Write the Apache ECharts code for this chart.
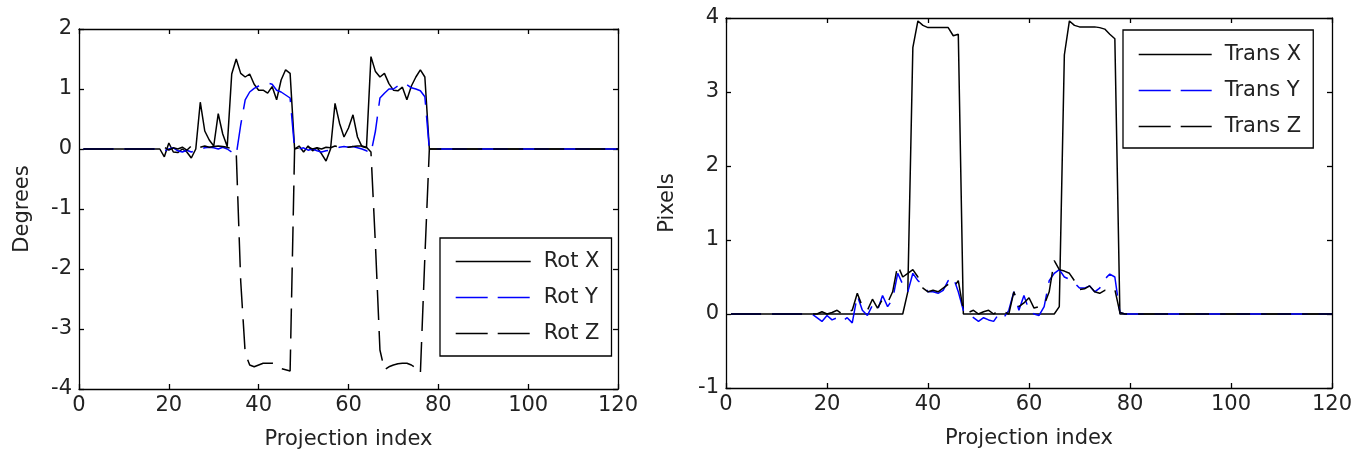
<!DOCTYPE html>
<html>
<head>
<meta charset="utf-8">
<script src="https://cdn.jsdelivr.net/npm/echarts/dist/echarts.min.js"></script>
<style>
  html, body { margin: 0; padding: 0; background: #fff; }
  #chart { width: 1369px; height: 460px; }
</style>
</head>
<body>
<div id="chart"></div>
<script>
// projection index 1..120
var projIndex = [];
for (var i = 1; i <= 120; i++) projIndex.push(i);

var xTicks = [0, 20, 40, 60, 80, 100, 120];

// left panel (degrees)
var rotX = [
  0, 0, 0, 0, 0, 0, 0, 0, 0, 0, 0, 0, 0, 0, 0, 0, 0, 0, -0.13, 0.1,
  -0.05, -0.06, 0.0, -0.05, -0.15, 0.0, 0.78, 0.3, 0.15, 0.05, 0.59, 0.25, 0.04, 1.25, 1.5, 1.26, 1.2, 1.25, 1.08, 0.98,
  0.98, 0.93, 1.04, 0.82, 1.15, 1.32, 1.26, 0.0, 0.05, -0.05, 0.05, -0.03, 0.02, -0.08, -0.2, 0.0, 0.76, 0.43, 0.2, 0.35,
  0.57, 0.2, 0.04, 0.02, 1.54, 1.29, 1.2, 1.26, 1.09, 0.98, 0.97, 1.03, 0.82, 1.05, 1.2, 1.32, 1.2, 0, 0, 0,
  0, 0, 0, 0, 0, 0, 0, 0, 0, 0, 0, 0, 0, 0, 0, 0, 0, 0, 0, 0,
  0, 0, 0, 0, 0, 0, 0, 0, 0, 0, 0, 0, 0, 0, 0, 0, 0, 0, 0, 0
];
var rotY = [
  0, 0, 0, 0, 0, 0, 0, 0, 0, 0, 0, 0, 0, 0, 0, 0, 0, 0, -0.03, 0.0,
  0.02, -0.03, -0.05, -0.02, -0.05, -0.03, 0.0, 0.02, 0.03, 0.02, 0.0, 0.03, 0.0, -0.05, -0.1, 0.4, 0.82, 0.95, 1.01, 1.05,
  1.08, 1.1, 1.08, 0.98, 0.95, 0.9, 0.85, 0.0, 0.0, 0.02, -0.02, 0.0, -0.03, -0.05, -0.03, -0.02, 0.0, 0.03, 0.04, 0.03,
  0.04, 0.02, 0.0, -0.03, -0.07, 0.3, 0.85, 0.93, 1.0, 1.0, 1.05, 1.1, 1.07, 1.02, 1.0, 0.97, 0.87, 0, 0, 0,
  0, 0, 0, 0, 0, 0, 0, 0, 0, 0, 0, 0, 0, 0, 0, 0, 0, 0, 0, 0,
  0, 0, 0, 0, 0, 0, 0, 0, 0, 0, 0, 0, 0, 0, 0, 0, 0, 0, 0, 0
];
var rotZ = [
  0, 0, 0, 0, 0, 0, 0, 0, 0, 0, 0, 0, 0, 0, 0, 0, 0, 0, 0.03, -0.02,
  0.02, 0.0, 0.03, -0.02, 0.05, 0.0, 0.03, 0.05, 0.03, 0.04, 0.05, 0.04, 0.03, 0.0, -0.05, -2.2, -3.4, -3.6, -3.63, -3.6,
  -3.57, -3.57, -3.57, -3.58, -3.66, -3.68, -3.7, 0.0, 0.02, -0.02, 0.03, 0.0, 0.02, 0.0, 0.03, 0.02, 0.05, 0.03, 0.05, 0.03,
  0.04, 0.05, 0.05, 0.03, -0.05, -1.6, -3.35, -3.68, -3.63, -3.6, -3.58, -3.57, -3.57, -3.6, -3.65, -3.74, -1.8, 0, 0, 0,
  0, 0, 0, 0, 0, 0, 0, 0, 0, 0, 0, 0, 0, 0, 0, 0, 0, 0, 0, 0,
  0, 0, 0, 0, 0, 0, 0, 0, 0, 0, 0, 0, 0, 0, 0, 0, 0, 0, 0, 0
];

// right panel (pixels)
var transX = [
  0, 0, 0, 0, 0, 0, 0, 0, 0, 0, 0, 0, 0, 0, 0, 0, 0, 0, 0, 0,
  0, 0, 0, 0, 0, 0, 0, 0, 0, 0, 0, 0, 0, 0, 0, 0.3, 3.6, 3.96, 3.9, 3.87,
  3.87, 3.87, 3.87, 3.87, 3.76, 3.78, 0, 0, 0, 0, 0, 0, 0, 0, 0, 0, 0, 0, 0, 0,
  0, 0, 0, 0, 0, 0.1, 3.5, 3.96, 3.9, 3.88, 3.88, 3.88, 3.88, 3.87, 3.85, 3.78, 3.72, 0, 0, 0,
  0, 0, 0, 0, 0, 0, 0, 0, 0, 0, 0, 0, 0, 0, 0, 0, 0, 0, 0, 0,
  0, 0, 0, 0, 0, 0, 0, 0, 0, 0, 0, 0, 0, 0, 0, 0, 0, 0, 0, 0
];
var transY = [
  0, 0, 0, 0, 0, 0, 0, 0, 0, 0, 0, 0, 0, 0, 0, 0, 0, -0.05, -0.1, -0.02,
  -0.08, -0.05, -0.1, -0.05, -0.12, 0.25, 0.05, -0.02, 0.12, 0.05, 0.25, 0.1, 0.2, 0.55, 0.4, 0.3, 0.55, 0.45, 0.4, 0.3,
  0.3, 0.28, 0.32, 0.45, 0.5, 0.3, 0.05, 0.0, -0.05, -0.1, -0.05, -0.08, -0.1, 0.0, -0.05, 0.05, 0.3, 0.05, 0.25, 0.05,
  0.0, -0.02, 0.1, 0.45, 0.55, 0.6, 0.5, 0.47, 0.42, 0.35, 0.35, 0.38, 0.3, 0.35, 0.47, 0.54, 0.5, 0.02, 0, 0,
  0, 0, 0, 0, 0, 0, 0, 0, 0, 0, 0, 0, 0, 0, 0, 0, 0, 0, 0, 0,
  0, 0, 0, 0, 0, 0, 0, 0, 0, 0, 0, 0, 0, 0, 0, 0, 0, 0, 0, 0
];
var transZ = [
  0, 0, 0, 0, 0, 0, 0, 0, 0, 0, 0, 0, 0, 0, 0, 0, 0, 0.0, 0.03, 0.0,
  0.02, 0.05, 0.0, 0.03, 0.05, 0.28, 0.1, 0.05, 0.2, 0.08, 0.2, 0.15, 0.3, 0.66, 0.5, 0.55, 0.6, 0.5, 0.35, 0.3,
  0.32, 0.3, 0.35, 0.4, 0.35, 0.45, 0.05, 0.02, 0.05, 0.0, 0.03, 0.05, 0.0, 0.05, 0.03, 0.0, 0.3, 0.1, 0.15, 0.22,
  0.08, 0.1, 0.12, 0.3, 0.72, 0.6, 0.58, 0.55, 0.45, 0.33, 0.34, 0.38, 0.3, 0.28, 0.32, 0.3, 0.33, 0.02, 0, 0,
  0, 0, 0, 0, 0, 0, 0, 0, 0, 0, 0, 0, 0, 0, 0, 0, 0, 0, 0, 0,
  0, 0, 0, 0, 0, 0, 0, 0, 0, 0, 0, 0, 0, 0, 0, 0, 0, 0, 0, 0
];

function pairs(vals) {
  return projIndex.map(function (x, k) { return [x, vals[k]]; });
}

var FONT = 'DejaVu Sans';
var TXT = '#222';
var dash = [30, 11];
var legendDash = [32, 10];

function xAx(grid, pos, withLabel) {
  return {
    gridIndex: grid, type: 'value', position: pos, min: 0, max: 120, interval: 20,
    axisLine: { show: true, onZero: false, lineStyle: { color: '#000', width: 1.3 } },
    axisTick: { show: true, inside: true, length: 5, lineStyle: { color: '#000', width: 1.3 } },
    axisLabel: { show: withLabel, color: TXT, fontFamily: FONT, fontSize: 21, margin: 6 },
    splitLine: { show: false },
    name: withLabel ? 'Projection index' : '',
    nameLocation: 'middle', nameGap: 40,
    nameTextStyle: { color: TXT, fontFamily: FONT, fontSize: 21 }
  };
}
function yAx(grid, pos, min, max, name, gap, withLabel) {
  return {
    gridIndex: grid, type: 'value', position: pos, min: min, max: max, interval: 1,
    axisLine: { show: true, onZero: false, lineStyle: { color: '#000', width: 1.3 } },
    axisTick: { show: true, inside: true, length: 5, lineStyle: { color: '#000', width: 1.3 } },
    axisLabel: { show: withLabel, color: TXT, fontFamily: FONT, fontSize: 21, margin: 7 },
    splitLine: { show: false },
    name: withLabel ? name : '',
    nameLocation: 'middle', nameGap: gap, nameRotate: 90,
    nameTextStyle: { color: TXT, fontFamily: FONT, fontSize: 21 }
  };
}
function line(name, xi, yi, vals, color, dashed) {
  return {
    name: name, type: 'line', xAxisIndex: xi, yAxisIndex: yi,
    data: pairs(vals), symbol: 'none', showSymbol: false,
    lineStyle: { color: color, width: 1.5, type: dashed ? dash : 'solid' },
    itemStyle: { color: color },
    emphasis: { disabled: true }
  };
}
function legendItem(name, dashed) {
  return { name: name, lineStyle: { type: dashed ? legendDash : 'solid', width: 1.4 } };
}
function legendBox(items, left, top, pad, w) {
  return {
    data: items, orient: 'vertical', left: left, top: top, padding: pad,
    itemWidth: w, itemHeight: 20, itemGap: 15,
    itemStyle: { opacity: 0 },
    backgroundColor: '#fff', borderColor: '#000', borderWidth: 1.3, borderRadius: 0,
    textStyle: { color: TXT, fontFamily: FONT, fontSize: 21, lineHeight: 20, padding: [0, 0, 0, 8] },
    selectedMode: false
  };
}

var chart = echarts.init(document.getElementById('chart'), null, { renderer: 'canvas' });
chart.setOption({
  animation: false,
  backgroundColor: '#fff',
  grid: [
    { left: 79, top: 29, width: 539, height: 360, outerBoundsMode: 'none' },
    { left: 726, top: 18, width: 606, height: 370, outerBoundsMode: 'none' }
  ],
  xAxis: [xAx(0, 'bottom', true), xAx(0, 'top', false), xAx(1, 'bottom', true), xAx(1, 'top', false)],
  yAxis: [
    yAx(0, 'left', -4, 2, 'Degrees', 46, true), yAx(0, 'right', -4, 2, '', 0, false),
    yAx(1, 'left', -1, 4, 'Pixels', 48, true), yAx(1, 'right', -1, 4, '', 0, false)
  ],
  legend: [
    legendBox([legendItem('Rot X', false), legendItem('Rot Y', true), legendItem('Rot Z', true)],
      440, 238, [13, 12, 12, 15], 75),
    legendBox([legendItem('Trans X', false), legendItem('Trans Y', true), legendItem('Trans Z', true)],
      1123, 30, [14, 12, 11, 15], 73)
  ],
  series: [
    line('Rot X', 0, 0, rotX, '#000', false),
    line('Rot Y', 0, 0, rotY, '#0000ff', true),
    line('Rot Z', 0, 0, rotZ, '#000', true),
    line('Trans X', 2, 2, transX, '#000', false),
    line('Trans Y', 2, 2, transY, '#0000ff', true),
    line('Trans Z', 2, 2, transZ, '#000', true)
  ]
});
window.onresize = function () { chart.resize(); };
</script>
</body>
</html>
